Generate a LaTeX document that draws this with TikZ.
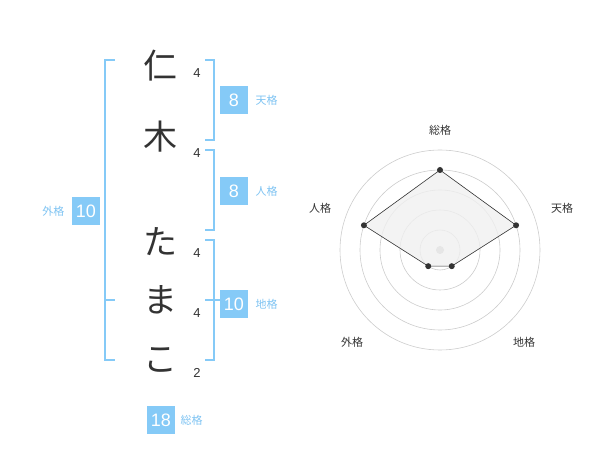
\documentclass[tikz,border=0pt]{standalone}
\usepackage{fontspec}
\usetikzlibrary{positioning,calc}
\setmainfont{Noto Sans CJK JP}
\newfontfamily\numfont{Liberation Sans}
\definecolor{kakublue}{HTML}{85CAF7}
\definecolor{kakutext}{HTML}{7EC3F2}
\definecolor{inkgray}{HTML}{333333}
\begin{document}
\begin{tikzpicture}
    [
        x=1pt, y=-1pt,
        kanji/.style={font=\fontsize{34}{34}\selectfont, text=inkgray},
        stroke/.style={font=\numfont\fontsize{13}{13}\selectfont, text=inkgray},
        kakubox/.style={fill=kakublue, text=white, minimum width=28pt, minimum height=28pt, inner sep=0pt, font=\numfont\fontsize{18}{18}\selectfont},
        kakulabel/.style={text=kakutext, font=\fontsize{11}{11}\selectfont},
        bracket/.style={draw=kakublue, line width=1.5pt},
        ring/.style={draw=black!20, line width=0.6pt},
        dot/.style={circle, fill=inkgray, inner sep=0pt, minimum width=6pt},
        axislabel/.style={text=inkgray, font=\fontsize{11}{11}\selectfont}
    ]
    \useasboundingbox (0,0) rectangle (600,470);

    % name
    \node [kanji] (c1) at (160,66) {仁};
    \node [kanji] (c2) at (160,137) {木};
    \node [kanji] (c3) at (160,242) {た};
    \node [kanji] (c4) at (160,300) {ま};
    \node [kanji] (c5) at (160,360) {こ};
    \node [stroke] (s1) at (197,73) {4};
    \node [stroke] (s2) at (197,153) {4};
    \node [stroke] (s3) at (197,253) {4};
    \node [stroke] (s4) at (197,313) {4};
    \node [stroke] (s5) at (197,373) {2};

    % brackets
    \draw [bracket] (205,60) -- (214,60) -- (214,140) -- (205,140);
    \draw [bracket] (205,150) -- (214,150) -- (214,230) -- (205,230);
    \draw [bracket] (205,240) -- (214,240) -- (214,360) -- (205,360);
    \draw [bracket] (205,300) -- (220,300);
    \draw [bracket] (115,60) -- (105,60) -- (105,360) -- (115,360);
    \draw [bracket] (105,300) -- (115,300);

    % boxes
    \node [kakubox] (ten) at (234,100) {8};
    \node [kakulabel, right=4pt of ten] (tenl) {天格};
    \node [kakubox] (jin) at (234,191) {8};
    \node [kakulabel, right=4pt of jin] (jinl) {人格};
    \node [kakubox] (chi) at (234,304) {10};
    \node [kakulabel, right=4pt of chi] (chil) {地格};
    \node [kakubox] (gai) at (86,211) {10};
    \node [kakulabel, left=4pt of gai] (gail) {外格};
    \node [kakubox] (sou) at (161,420) {18};
    \node [kakulabel, right=2pt of sou] (soul) {総格};

    % radar
    \coordinate (o) at (440,250);
    \foreach \r in {20,40,60,80,100}
        \draw [ring] (o) circle (\r);
    \fill [black!25] (o) circle (4);
    \coordinate (p1) at ($(o)+(0,-80)$);
    \coordinate (p2) at ($(o)+({80*cos(18)},{-80*sin(18)})$);
    \coordinate (p3) at ($(o)+({20*cos(54)},{20*sin(54)})$);
    \coordinate (p4) at ($(o)+({-20*cos(54)},{20*sin(54)})$);
    \coordinate (p5) at ($(o)+({-80*cos(18)},{-80*sin(18)})$);
    \draw [fill=black!6, fill opacity=0.8, draw=inkgray, line width=0.6pt] (p1) -- (p2) -- (p3) -- (p4) -- (p5) -- cycle;
    \foreach \p in {p1,p2,p3,p4,p5}
        \node [dot] at (\p) {};
    \node [axislabel] (a1) at (440,130) {総格};
    \node [axislabel] (a2) at (562,208) {天格};
    \node [axislabel] (a3) at (524,342) {地格};
    \node [axislabel] (a4) at (352,342) {外格};
    \node [axislabel] (a5) at (320,208) {人格};
\end{tikzpicture}
\end{document}
